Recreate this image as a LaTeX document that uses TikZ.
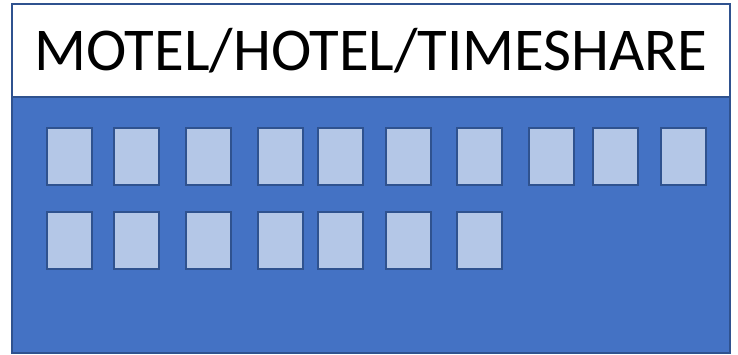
\documentclass[tikz,border=0pt]{standalone}
\usepackage{fontspec}
\setmainfont{Carlito}
\usepackage{xcolor}
\usetikzlibrary{positioning}
\definecolor{bodyblue}{HTML}{4472C4}
\definecolor{edgeblue}{HTML}{2F528F}
\definecolor{paneblue}{HTML}{B4C7E7}
\tikzset{
    building/.style={draw=edgeblue, line width=1.5pt, fill=bodyblue, rectangle, inner sep=0pt},
    signboard/.style={draw=edgeblue, line width=1.2pt, fill=white, rectangle, inner sep=0pt},
    windowpane/.style={draw=edgeblue, line width=1.6pt, fill=paneblue, rectangle, inner sep=0pt,
        minimum width=45pt, minimum height=57pt, anchor=north west}
}

\begin{document}
\begin{tikzpicture}[x=1pt, y=-1pt]
        \useasboundingbox (0,0) rectangle (738,355);
        % ----------------------------------------------------
        % Building body and sign
        % ----------------------------------------------------
        \node[building, minimum width=718pt, minimum height=256pt] (body) at (371,225) {};
        \node[signboard, minimum width=718pt, minimum height=93pt] (sign) at (371,50.5)
            {\raisebox{-1.5pt}{\fontsize{60.8}{62}\selectfont MOTEL/HOTEL/TIMESHARE}};

        % ----------------------------------------------------
        % Windows: upper floor (10), lower floor (7)
        % ----------------------------------------------------
        \foreach \xl [count=\i] in {46,113,185,257,317,385,456,528,592,660}
            \node[windowpane] (up\i) at (\xl,127) {};
        \foreach \xl [count=\i] in {46,113,185,257,317,385,456}
            \node[windowpane] (low\i) at (\xl,211) {};
    \end{tikzpicture}
\end{document}
